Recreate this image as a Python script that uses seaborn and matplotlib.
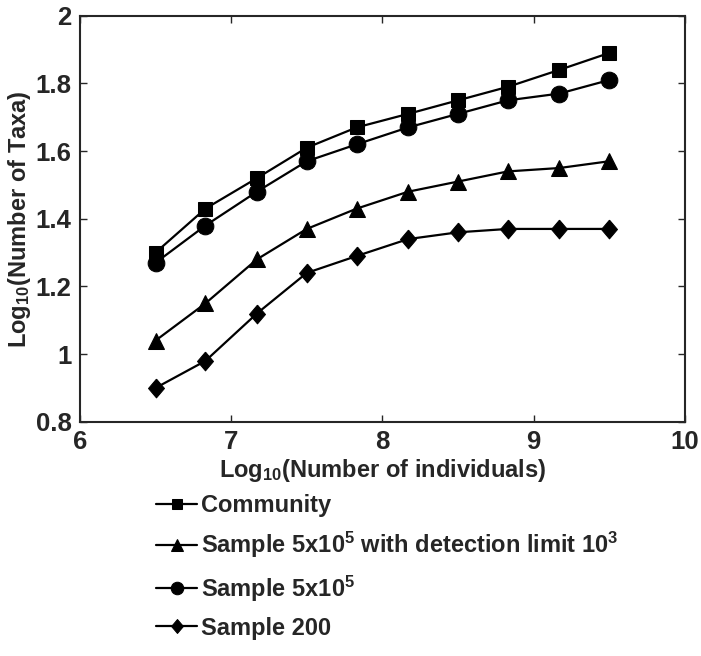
import matplotlib
matplotlib.use("Agg")
import matplotlib.pyplot as plt
import seaborn as sns
import pandas as pd

# ========== Data ==========
log_individuals = [6.5, 6.83, 7.17, 7.5, 7.83, 8.17, 8.5, 8.83, 9.17, 9.5]

community = [1.30, 1.43, 1.52, 1.61, 1.67, 1.71, 1.75, 1.79, 1.84, 1.89]
sample_detect = [1.04, 1.15, 1.28, 1.37, 1.43, 1.48, 1.51, 1.54, 1.55, 1.57]
sample_5e5 = [1.27, 1.38, 1.48, 1.57, 1.62, 1.67, 1.71, 1.75, 1.77, 1.81]
sample_200 = [0.90, 0.98, 1.12, 1.24, 1.29, 1.34, 1.36, 1.37, 1.37, 1.37]

series_names = [
    "Community",
    r"Sample $\mathregular{5x10^5}$ with detection limit $\mathregular{10^3}$",
    r"Sample $\mathregular{5x10^5}$",
    "Sample 200",
]
series_values = [community, sample_detect, sample_5e5, sample_200]

x_ticks = [6, 7, 8, 9, 10]
y_ticks = [0.8, 1, 1.2, 1.4, 1.6, 1.8, 2]

# build long table for seaborn
rows = []
for name, vals in zip(series_names, series_values):
    for xv, yv in zip(log_individuals, vals):
        rows.append({"x": xv, "y": yv, "series": name})
df = pd.DataFrame(rows)

# marker shapes / sizes per series (diamond a bit narrow, matlab style)
diamond = [(0, 1), (0.85, 0), (0, -1), (-0.85, 0), (0, 1)]
series_markers = ["s", "^", "o", diamond]
marker_sizes = [9.5, 12, 12, 13.5]
legend_sizes = [7, 9, 9, 10]

# ========== Plot ==========
sns.set_style("ticks")
plt.rcParams['font.family'] = ['Liberation Sans', 'DejaVu Sans']
plt.rcParams['mathtext.fontset'] = 'custom'
plt.rcParams['mathtext.rm'] = 'Liberation Sans:bold'

fig = plt.figure(figsize=(7.01, 6.56), dpi=100)
ax = fig.add_axes([0.114, 0.357, 0.863, 0.619])

sns.lineplot(
    data=df, x="x", y="y", hue="series", style="series",
    hue_order=series_names, style_order=series_names,
    palette=["black"] * 4,
    markers=dict(zip(series_names, series_markers)),
    dashes=False, linewidth=1.6, markersize=11,
    markeredgecolor="black", ax=ax,
)
for line, ms in zip(ax.lines, marker_sizes):
    line.set_markersize(ms)

ax.set_xlim(6, 10)
ax.set_ylim(0.8, 2)
ax.set_xticks(x_ticks)
ax.set_yticks(y_ticks)
ax.set_xticklabels([str(t) for t in x_ticks])
ax.set_yticklabels(["0.8", "1", "1.2", "1.4", "1.6", "1.8", "2"])
ax.tick_params(direction="in", top=True, right=True, length=5, width=1,
               labelsize=18.5, pad=6)
for lab in ax.get_xticklabels() + ax.get_yticklabels():
    lab.set_fontweight("bold")
for sp in ax.spines.values():
    sp.set_linewidth(1.5)

ax.set_xlabel(r"$\mathregular{Log_{10}}$(Number of individuals)",
              fontsize=17, fontweight="bold", labelpad=2)
ax.set_ylabel(r"$\mathregular{Log_{10}}$(Number of Taxa)",
              fontsize=17, fontweight="bold", labelpad=2)

leg = ax.legend(loc="upper left", bbox_to_anchor=(0.11, -0.155),
                bbox_transform=ax.transAxes, frameon=False,
                fontsize=17, handlelength=1.75, handletextpad=0.15,
                labelspacing=0.55, borderaxespad=0)
for t in leg.get_texts():
    t.set_fontweight("bold")
for h, ms in zip(leg.legend_handles, legend_sizes):
    h.set_markersize(ms)

fig.savefig("out.png", dpi=100)
